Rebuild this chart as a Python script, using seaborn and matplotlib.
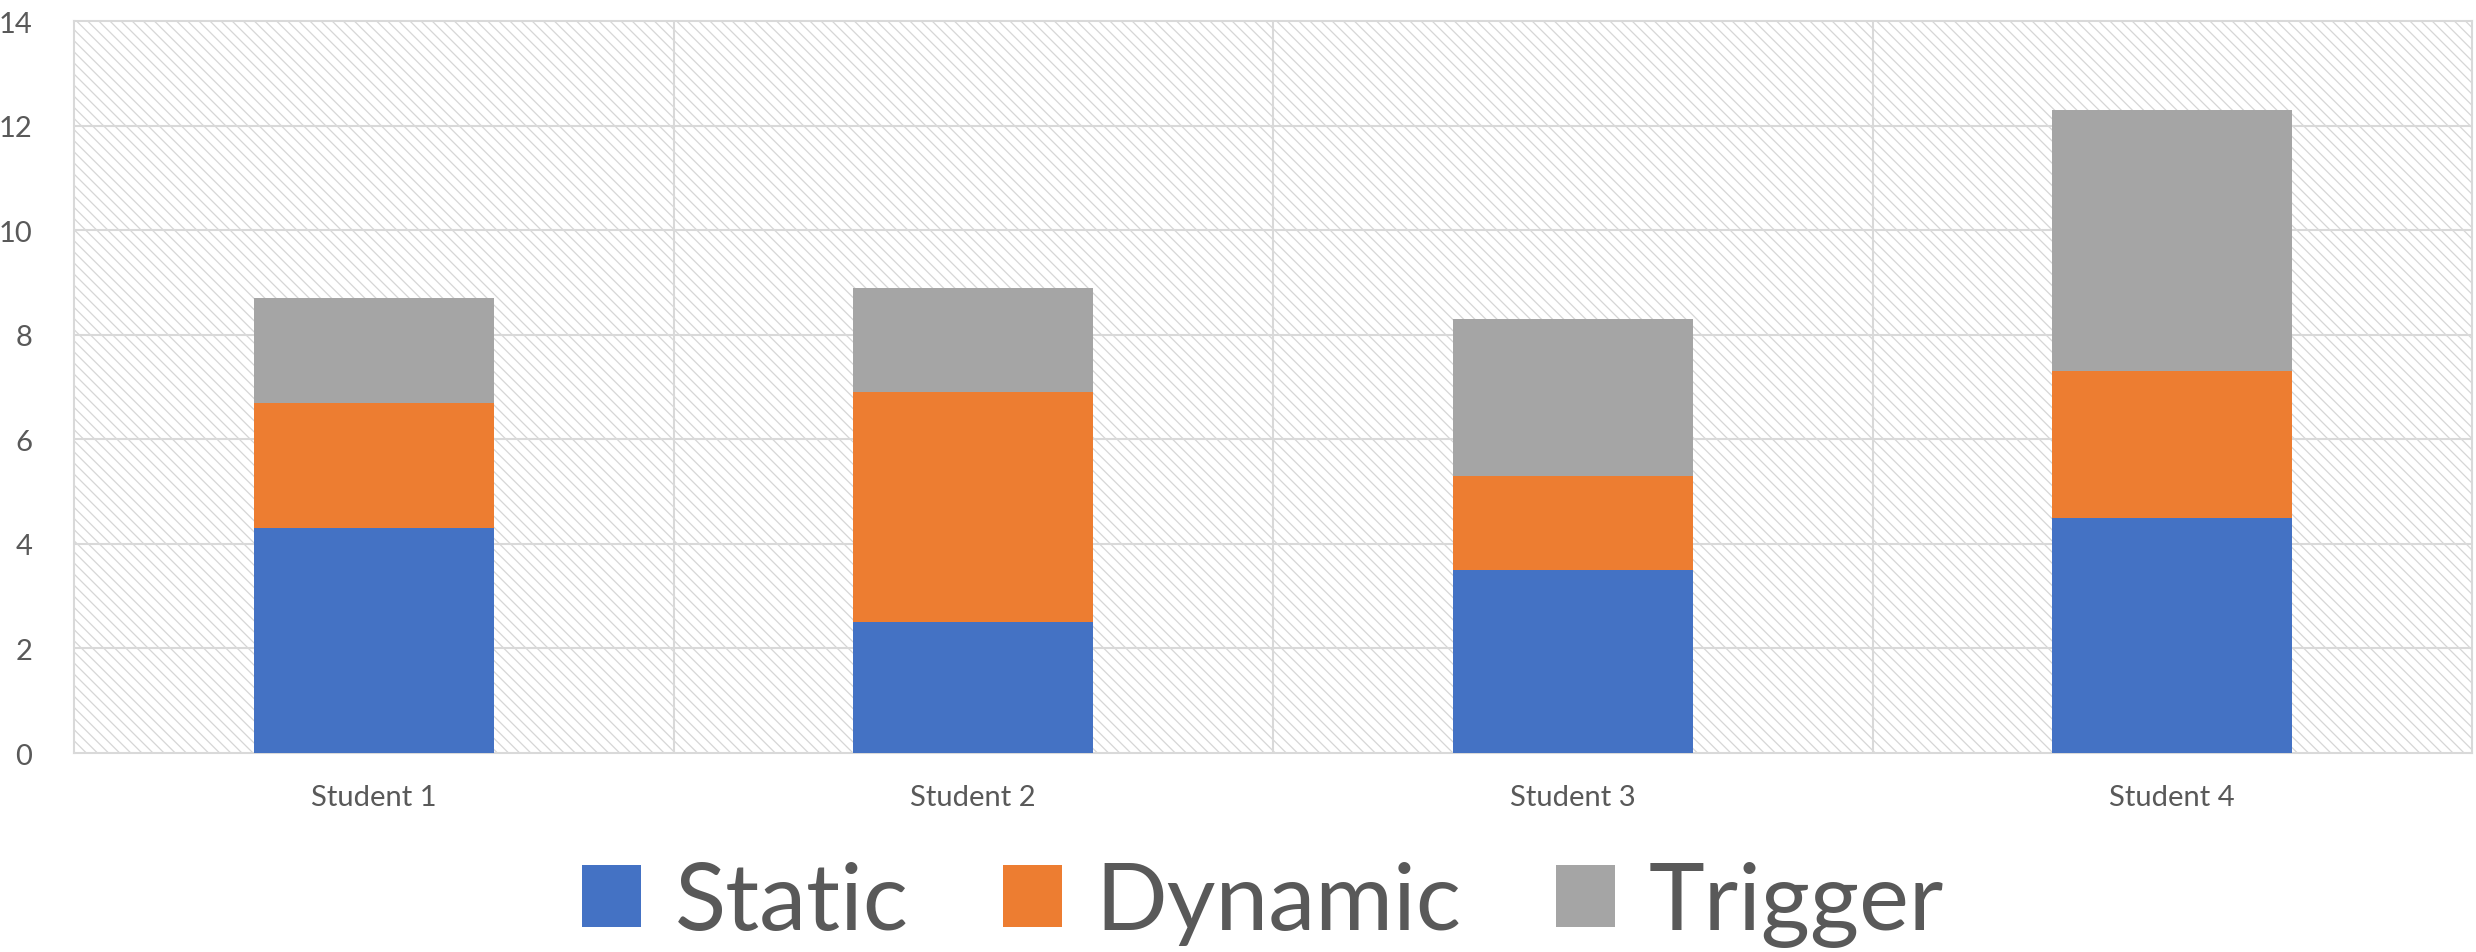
import matplotlib
matplotlib.use("Agg")
import matplotlib.pyplot as plt
import seaborn as sns
import pandas as pd
import numpy as np
from matplotlib.patches import Rectangle, Patch

students = ["Student 1", "Student 2", "Student 3", "Student 4"]
static = [4.3, 2.5, 3.5, 4.5]
dynamic = [2.4, 4.4, 1.8, 2.8]
trigger = [2.0, 2.0, 3.0, 5.0]
series = ["Static", "Dynamic", "Trigger"]
colors = ["#4472C4", "#ED7D31", "#A5A5A5"]
yticks = [0, 2, 4, 6, 8, 10, 12, 14]

sns.set_theme(style="white")
plt.rcParams["font.family"] = ["Lato", "DejaVu Sans"]
text_color = "#595959"
grid_color = "#D9D9D9"

df = pd.DataFrame({"student": students, "Static": static,
                   "Dynamic": dynamic, "Trigger": trigger})
df["s1"] = df["Static"]
df["s2"] = df["Static"] + df["Dynamic"]
df["s3"] = df["s2"] + df["Trigger"]

fig = plt.figure(figsize=(24.76, 9.53), dpi=100)
ax = fig.add_axes([0.0299, 0.2088, 0.9685, 0.7681])

# hatched background
plt.rcParams["hatch.color"] = "#D6D6D6"
plt.rcParams["hatch.linewidth"] = 0.9
bg = Rectangle((0, 0), 1, 1, transform=ax.transAxes, facecolor="white",
               edgecolor="#D6D6D6", hatch="\\\\\\", linewidth=0, zorder=0)
ax.add_patch(bg)

for col, c in zip(["s3", "s2", "s1"], colors[::-1]):
    sns.barplot(data=df, x="student", y=col, color=c, width=0.4,
                saturation=1, ax=ax, zorder=3, edgecolor="none", linewidth=0)

ax.set_xlim(-0.5, 3.5)
ax.set_ylim(0, 14)
ax.set_yticks(yticks)
ax.set_yticklabels([str(t) for t in yticks])
for y in yticks[1:-1]:
    ax.axhline(y, color=grid_color, lw=1.5, zorder=1)
for x in [0.5, 1.5, 2.5]:
    ax.axvline(x, color=grid_color, lw=1.5, zorder=1)
for s in ax.spines.values():
    s.set_visible(True)
    s.set_color(grid_color)
    s.set_linewidth(1.5)
ax.set_xlabel("")
ax.set_ylabel("")
ax.tick_params(axis="y", length=0, pad=30, labelsize=21, labelcolor=text_color)
ax.tick_params(axis="x", length=0, pad=22, labelsize=21, labelcolor=text_color)

handles = [Patch(facecolor=c, edgecolor="none") for c in colors]
fig.legend(handles, series, loc="center", bbox_to_anchor=(0.51, 0.05),
           ncol=3, frameon=False, fontsize=68, labelcolor=text_color,
           handlelength=0.63, handleheight=0.63, handletextpad=0.35,
           columnspacing=1.0, borderpad=0, borderaxespad=0)

fig.savefig("out.png", dpi=100)
